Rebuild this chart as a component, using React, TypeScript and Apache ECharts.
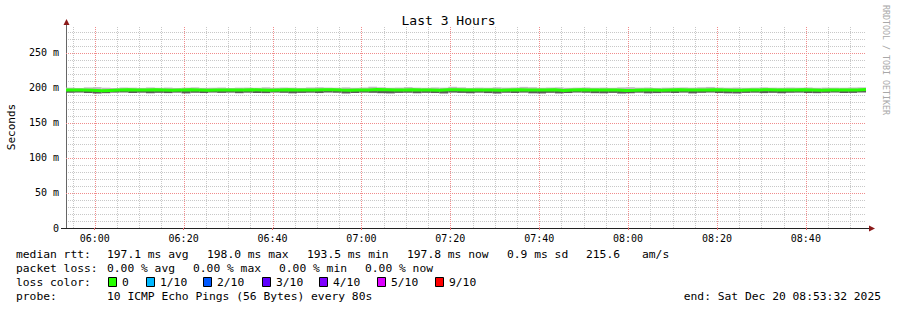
import { useEffect, useRef } from 'react';
import * as echarts from 'echarts';

// ---- data ----
const START_MIN = 353 + 32 / 60; // 05:53:32
const END_MIN = START_MIN + 180; // 08:53:32
const STEP_MIN = 2;

const medianMs = [
  197.2, 197.0, 196.8, 195.9, 196.5, 197.1, 197.3, 196.9, 197.0, 197.4,
  197.2, 196.6, 197.0, 197.3, 197.1, 196.8, 197.0, 197.2, 197.1, 196.9,
  197.3, 197.0, 196.7, 197.1, 197.4, 197.2, 196.9, 197.0, 197.3, 197.5,
  197.1, 196.8, 197.0, 197.2, 197.6, 197.3, 196.9, 197.1, 197.4, 197.2,
  197.0, 196.8, 197.3, 197.5, 197.2, 196.9, 197.1, 197.0, 196.6, 197.2,
  197.4, 197.1, 196.9, 197.0, 197.3, 196.5, 197.1, 197.4, 197.2, 197.0,
  196.9, 197.1, 196.4, 196.7, 197.2, 197.0, 196.8, 197.1, 197.3, 197.0,
  196.9, 197.2, 197.4, 197.1, 196.8, 196.6, 197.0, 197.2, 197.3, 197.0,
  196.9, 197.1, 197.3, 197.2, 196.8, 197.0, 197.2, 197.1, 196.9, 197.8,
];
const smokeHiMs = [
  200.4, 200.0, 200.8, 201.2, 200.3, 199.9, 200.6, 200.4, 200.1, 200.7,
  200.2, 200.5, 200.0, 200.4, 200.8, 200.1, 200.3, 200.6, 200.0, 200.4,
  200.5, 200.2, 200.9, 200.3, 200.6, 200.4, 200.1, 200.7, 201.0, 200.5,
  200.3, 200.8, 200.2, 200.6, 201.7, 200.9, 200.3, 200.5, 201.2, 200.4,
  200.2, 200.7, 200.4, 201.6, 200.8, 200.1, 200.5, 200.3, 200.9, 200.4,
  200.7, 201.5, 201.0, 200.3, 200.6, 200.8, 200.2, 200.4, 200.7, 200.3,
  200.5, 200.2, 200.8, 201.1, 200.4, 200.6, 200.1, 200.4, 200.5, 200.7,
  200.4, 200.9, 201.4, 200.6, 200.3, 200.5, 200.2, 200.4, 200.8, 200.4,
  200.3, 200.6, 200.4, 200.7, 200.2, 200.5, 200.4, 200.3, 200.6, 200.8,
];
const smokeLoMs = [
  193.1, 193.4, 192.7, 192.0, 192.5, 193.3, 193.5, 192.8, 193.2, 192.4,
  193.0, 192.6, 193.3, 192.2, 193.1, 192.7, 193.4, 192.9, 193.3, 192.5,
  193.2, 192.8, 192.6, 193.4, 193.0, 192.3, 192.9, 193.2, 192.7, 193.4,
  193.1, 192.1, 192.8, 193.3, 193.0, 192.5, 192.2, 192.9, 193.1, 192.4,
  193.0, 192.7, 192.1, 193.3, 192.9, 192.4, 193.2, 192.6, 192.0, 193.1,
  192.8, 193.3, 192.3, 192.1, 193.0, 192.2, 192.7, 193.4, 193.1, 192.5,
  192.3, 192.9, 192.0, 192.4, 193.2, 192.3, 192.6, 193.1, 192.8, 193.3,
  192.2, 193.0, 193.4, 192.7, 192.3, 192.1, 192.9, 193.2, 192.6, 193.0,
  192.4, 193.1, 193.3, 192.7, 192.5, 193.0, 193.4, 192.8, 192.9, 193.5,
];

const majorTimeTicks = [360, 380, 400, 420, 440, 460, 480, 500, 520];
const minorTimeTicks = [
  355, 365, 370, 375, 385, 390, 395, 405, 410, 415, 425, 430, 435, 445, 450, 455,
  465, 470, 475, 485, 490, 495, 505, 510, 515, 525, 530,
];
const majorValueTicks = [50, 100, 150, 200, 250];

const rttLabel = 'median rtt:';
const rttStats = ['197.1 ms avg', '198.0 ms max', '193.5 ms min', '197.8 ms now', '0.9 ms sd', '215.6', 'am/s'];
const lossLabel = 'packet loss:';
const lossStats = ['0.00 % avg', '0.00 % max', '0.00 % min', '0.00 % now'];
const lossColorLabel = 'loss color:';
const lossNames = ['0', '1/10', '2/10', '3/10', '4/10', '5/10', '9/10'];
const lossColors = ['#26ff00', '#00b8ff', '#0059ff', '#5e00ff', '#7e00ff', '#dd00ff', '#ff0000'];
const probeLabel = 'probe:';
const probeText = '10 ICMP Echo Pings (56 Bytes) every 80s';
const endText = 'end: Sat Dec 20 08:53:32 2025';
const titleText = 'Last 3 Hours';
const yName = 'Seconds';
const watermark = 'RRDTOOL / TOBI OETIKER';

// ---- layout ----
const MONO = '"DejaVu Sans Mono", monospace';
const W = 897;
const H = 310;
const GRID = { left: 66, right: 31, top: 27, bottom: 82 };
const LEG_FS = 11.3;
const rttX = [107, 207, 307, 407, 507, 586, 642];
const lossX = [107, 193, 279, 365];
const boxX = [108, 146, 203, 262, 319, 377, 435];
const GRAY = '#c8c8c8';
const RED = '#f08c8c';

const fmtTime = (v: number) => {
  const h = Math.floor(v / 60);
  const m = Math.round(v - h * 60);
  return `${String(h).padStart(2, '0')}:${String(m).padStart(2, '0')}`;
};

const gridSeries = (name: string, data: number[][], color: string, vertical: boolean) => ({
  type: 'custom',
  name,
  z: 1,
  silent: true,
  clip: false,
  data,
  encode: { x: 0, y: 1 },
  renderItem: (params: any, api: any) => {
    const cs = params.coordSys;
    const p = api.coord([api.value(0), api.value(1)]);
    const style = { stroke: color, fill: null, lineWidth: 1, lineDash: [1, 1] };
    if (vertical) {
      const x = Math.round(p[0]) + 0.5;
      return { type: 'line', shape: { x1: x, y1: cs.y, x2: x, y2: cs.y + cs.height }, style };
    }
    const y = Math.round(p[1]) + 0.5;
    return { type: 'line', shape: { x1: cs.x, y1: y, x2: cs.x + cs.width, y2: y }, style };
  },
});

export default function App() {
  const ref = useRef<HTMLDivElement>(null);
  useEffect(() => {
    document.body.style.margin = '0';
    const chart = echarts.init(ref.current!, null, { renderer: 'svg' });

    const txt = (text: string, x: number, y: number, extra: any = {}) => ({
      type: 'text',
      x,
      y,
      silent: true,
      style: {
        text,
        fontFamily: MONO,
        fontSize: LEG_FS,
        fill: '#000',
        align: 'left',
        verticalAlign: 'middle',
        ...extra,
      },
    });

    const graphic: any[] = [];
    graphic.push(txt(rttLabel, 16, 254));
    rttStats.forEach((s, i) => graphic.push(txt(s, rttX[i], 254)));
    graphic.push(txt(lossLabel, 16, 268));
    lossStats.forEach((s, i) => graphic.push(txt(s, lossX[i], 268)));
    graphic.push(txt(lossColorLabel, 16, 282));
    lossNames.forEach((s, i) => {
      graphic.push({
        type: 'rect',
        silent: true,
        shape: { x: boxX[i] + 0.5, y: 277.5, width: 8, height: 9 },
        style: { fill: lossColors[i], stroke: '#000', lineWidth: 1 },
      });
      graphic.push(txt(s, boxX[i] + 14, 282));
    });
    graphic.push(txt(probeLabel, 16, 296));
    graphic.push(txt(probeText, 107, 296));
    graphic.push(txt(endText, 881, 296, { align: 'right' }));
    graphic.push(txt(yName, 11, 127, { align: 'center', fontSize: 11 }));
    graphic[graphic.length - 1].rotation = Math.PI / 2;
    graphic.push(txt(watermark, 886, 5, { fontSize: 8.3, fill: '#a8a8a8' }));
    graphic[graphic.length - 1].rotation = -Math.PI / 2;

    // axis extensions + arrows
    const x0 = GRID.left + 0.5;
    const yb = H - GRID.bottom + 0.5;
    const xr = W - GRID.right;
    graphic.push({ type: 'line', silent: true, shape: { x1: x0, y1: GRID.top, x2: x0, y2: 22 }, style: { stroke: '#666', lineWidth: 1 } });
    graphic.push({ type: 'line', silent: true, shape: { x1: 61, y1: yb, x2: x0, y2: yb }, style: { stroke: '#222', lineWidth: 1 } });
    graphic.push({ type: 'line', silent: true, shape: { x1: xr, y1: yb, x2: xr + 4, y2: yb }, style: { stroke: '#222', lineWidth: 1 } });
    graphic.push({ type: 'polygon', silent: true, shape: { points: [[x0 - 3, 25], [x0 + 3, 25], [x0, 19]] }, style: { fill: '#8b1a1a' } });
    graphic.push({ type: 'polygon', silent: true, shape: { points: [[xr + 3, yb - 3], [xr + 3, yb + 3], [xr + 9, yb]] }, style: { fill: '#8b1a1a' } });

    const smokeData = medianMs.map((m, i) => [START_MIN + i * STEP_MIN, smokeLoMs[i], m, smokeHiMs[i]]);
    const medianData = medianMs.map((m, i) => [START_MIN + i * STEP_MIN, m]);
    medianData.push([END_MIN, medianMs[medianMs.length - 1]]);

    chart.setOption({
      animation: false,
      backgroundColor: '#fff',
      title: {
        text: titleText,
        left: 'center',
        top: 9,
        textStyle: { fontFamily: MONO, fontSize: 13, fontWeight: 'normal', color: '#000' },
      },
      grid: { ...GRID, containLabel: false },
      xAxis: {
        type: 'value',
        min: START_MIN,
        max: END_MIN,
        axisLine: { show: true, onZero: false, lineStyle: { color: '#222' } },
        axisTick: { show: true, customValues: majorTimeTicks, length: 2, lineStyle: { color: '#e07070' } },
        axisLabel: {
          customValues: majorTimeTicks,
          formatter: (v: number) => fmtTime(v),
          fontFamily: MONO,
          fontSize: 10,
          color: '#000',
          margin: 5,
        },
        splitLine: { show: false },
      },
      yAxis: {
        type: 'value',
        min: 0,
        max: 287,
        interval: 10,
        axisLine: { show: true, lineStyle: { color: '#666' } },
        axisTick: { show: false },
        axisLabel: {
          formatter: (v: number) => (v % 50 === 0 ? (v === 0 ? '0' : `${v} m`) : ''),
          fontFamily: MONO,
          fontSize: 10,
          color: '#000',
          margin: 7,
        },
        splitLine: { show: true, showMinLine: false, showMaxLine: false, lineStyle: { color: GRAY, type: [1, 1], width: 1 } },
      },
      graphic,
      series: [
        gridSeries('vMinor', minorTimeTicks.map((v) => [v, 0]), GRAY, true),
        gridSeries('vMajor', majorTimeTicks.map((v) => [v, 0]), RED, true),
        gridSeries('hMajor', majorValueTicks.map((v) => [START_MIN, v]), RED, false),
        {
          type: 'custom',
          name: 'smoke',
          z: 3,
          silent: true,
          data: smokeData,
          encode: { x: 0, y: [1, 2, 3] },
          renderItem: (params: any, api: any) => {
            const t = api.value(0);
            const pLo = api.coord([t, api.value(1)]);
            const pMed = api.coord([t, api.value(2)]);
            const pHi = api.coord([t, api.value(3)]);
            const xEnd = api.coord([t + STEP_MIN, 0])[0];
            const w = xEnd - pLo[0];
            return {
              type: 'group',
              children: [
                { type: 'rect', shape: { x: pLo[0], y: pHi[1], width: w, height: pMed[1] - pHi[1] }, style: { fill: '#bdbdbd' } },
                { type: 'rect', shape: { x: pLo[0], y: pMed[1], width: w, height: pLo[1] - pMed[1] }, style: { fill: '#5a5a5a' } },
              ],
            };
          },
        },
        {
          type: 'line',
          name: 'median',
          z: 4,
          silent: true,
          step: 'end',
          showSymbol: false,
          symbol: 'none',
          data: medianData,
          lineStyle: { color: '#26ff00', width: 3 },
        },
      ],
    });
    return () => chart.dispose();
  }, []);
  return <div ref={ref} style={{ position: 'fixed', left: 0, top: 0, width: W, height: H, background: '#fff' }} />;
}
